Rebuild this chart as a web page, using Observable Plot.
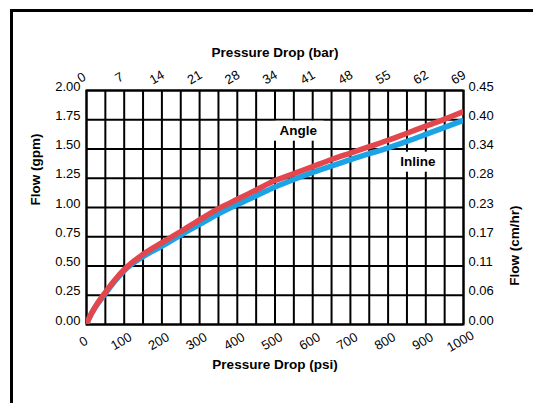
<!DOCTYPE html>
<html>
<head>
<meta charset="utf-8">
<script src="https://cdn.jsdelivr.net/npm/d3@7"></script>
<script src="https://cdn.jsdelivr.net/npm/@observablehq/plot@0.6"></script>
<style>
  html, body { margin: 0; padding: 0; background: #fff; width: 533px; height: 403px; overflow: hidden; }
  #frame { position: absolute; left: 10px; top: 9px; width: 700px; height: 600px; border: 3px solid #000; box-sizing: border-box; }
  #chart { position: absolute; left: 0; top: 0; }
</style>
</head>
<body>
<div id="frame"></div>
<div id="chart"></div>
<script>
// ---- data ----
const psi        = [0, 5, 10, 25, 50, 75, 100, 150, 200, 250, 300, 350, 400, 450, 500, 550, 600, 650, 700, 750, 800, 850, 900, 950, 1000];
const angleGpm   = [0, 0.04, 0.075, 0.16, 0.275, 0.38, 0.47, 0.60, 0.70, 0.795, 0.895, 0.99, 1.07, 1.15, 1.23, 1.29, 1.35, 1.41, 1.465, 1.52, 1.575, 1.635, 1.695, 1.755, 1.82];
const inlineGpm  = [0, 0.04, 0.075, 0.155, 0.265, 0.37, 0.46, 0.58, 0.67, 0.765, 0.855, 0.945, 1.025, 1.10, 1.175, 1.24, 1.30, 1.355, 1.41, 1.46, 1.51, 1.565, 1.625, 1.685, 1.745];

const psiTicks   = [0, 100, 200, 300, 400, 500, 600, 700, 800, 900, 1000];
const barLabels  = ["0", "7", "14", "21", "28", "34", "41", "48", "55", "62", "69"];
const psiGrid    = d3.range(0, 1001, 50);
const gpmTicks   = [0, 0.25, 0.5, 0.75, 1.0, 1.25, 1.5, 1.75, 2.0];
const cmhrLabels = ["0.00", "0.06", "0.11", "0.17", "0.23", "0.28", "0.34", "0.40", "0.45"];

const seriesNames = ["Inline", "Angle"];
const seriesColors = ["#1ca3e6", "#e4464d"];
const seriesLabels = [
  {name: "Angle", psi: 562, gpm: 1.655},
  {name: "Inline", psi: 879, gpm: 1.39}
];

const rows = [];
psi.forEach((p, i) => rows.push({series: "Inline", psi: p, gpm: inlineGpm[i]}));
psi.forEach((p, i) => rows.push({series: "Angle", psi: p, gpm: angleGpm[i]}));

const font = "'Liberation Sans', Arial, Helvetica, sans-serif";

const chart = Plot.plot({
  width: 533,
  height: 403,
  marginLeft: 86,
  marginRight: 70,
  marginTop: 90,
  marginBottom: 79,
  style: {fontFamily: font, fontSize: "13px", color: "#000", background: "transparent", overflow: "visible"},
  x: {domain: [0, 1000]},
  y: {domain: [0, 2]},
  color: {domain: seriesNames, range: seriesColors},
  marks: [
    Plot.gridX(psiGrid, {stroke: "#000", strokeOpacity: 1, strokeWidth: 2}),
    Plot.gridY(gpmTicks, {stroke: "#000", strokeOpacity: 1, strokeWidth: 2}),
    Plot.frame({stroke: "#000", strokeWidth: 2}),
    Plot.line(rows, {x: "psi", y: "gpm", z: "series", stroke: "series", strokeWidth: 5.5, curve: "monotone-x", clip: true, strokeLinecap: "butt"}),
    Plot.axisX({anchor: "bottom", ticks: psiTicks, tickFormat: d => String(d), tickSize: 0, tickRotate: -30, textAnchor: "middle", lineAnchor: "middle", tickPadding: 17, dx: -3, label: null, fontSize: 13}),
    Plot.axisX({anchor: "top", ticks: psiTicks, tickFormat: d => barLabels[psiTicks.indexOf(d)], tickSize: 0, tickRotate: -30, textAnchor: "middle", lineAnchor: "middle", tickPadding: 13, dx: -5, label: null, fontSize: 13}),
    Plot.axisY({anchor: "left", ticks: gpmTicks, tickFormat: d => d.toFixed(2), tickSize: 0, tickPadding: 6, dy: -4, label: null, fontSize: 13}),
    Plot.axisY({anchor: "right", ticks: gpmTicks, tickFormat: d => cmhrLabels[gpmTicks.indexOf(d)], tickSize: 0, tickPadding: 5, dy: -4, label: null, fontSize: 13}),
    Plot.text(["Pressure Drop (bar)"], {frameAnchor: "top", dy: -43, fontWeight: "bold", fontSize: 13.5}),
    Plot.text(["Pressure Drop (psi)"], {frameAnchor: "bottom", dy: 44, fontWeight: "bold", fontSize: 13.5}),
    Plot.text(["Flow (gpm)"], {frameAnchor: "left", dx: -51, dy: -2, rotate: -90, fontWeight: "bold", fontSize: 13.5}),
    Plot.text(["Flow (cm/hr)"], {frameAnchor: "right", dx: 51, dy: -2, rotate: -90, fontWeight: "bold", fontSize: 13.5}),
    Plot.text(seriesLabels, {x: "psi", y: "gpm", text: "name", fontWeight: "bold", fontSize: 13.5, fill: "#000"})
  ]
});

document.getElementById("chart").appendChild(chart);

// white boxes behind the series labels (same transform as the text)
chart.querySelectorAll("text").forEach(t => {
  if (seriesNames.includes(t.textContent)) {
    const b = t.getBBox();
    const r = document.createElementNS("http://www.w3.org/2000/svg", "rect");
    r.setAttribute("x", b.x - 6);
    r.setAttribute("y", b.y - 2.5);
    r.setAttribute("width", b.width + 12);
    r.setAttribute("height", b.height + 5);
    r.setAttribute("fill", "#fff");
    const tr = t.getAttribute("transform");
    if (tr) r.setAttribute("transform", tr);
    t.parentNode.insertBefore(r, t);
  }
});
</script>
</body>
</html>
